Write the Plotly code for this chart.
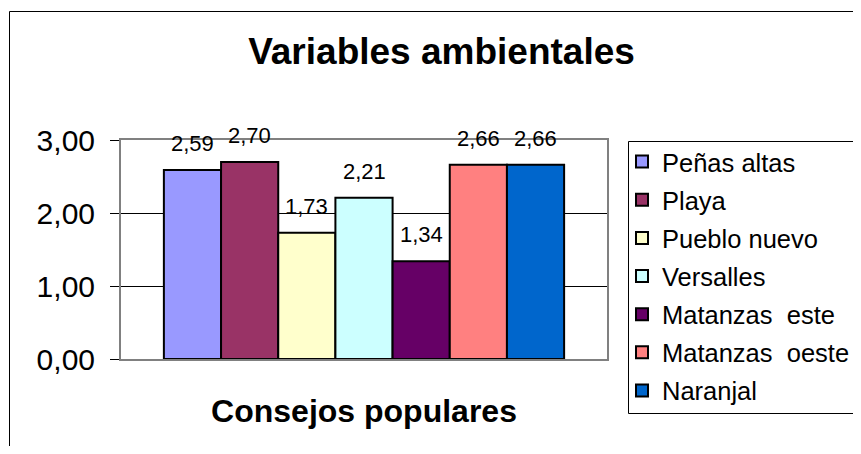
import plotly.graph_objects as go

# ---- data ----
categories = ["Peñas altas", "Playa", "Pueblo nuevo", "Versalles",
              "Matanzas  este", "Matanzas  oeste", "Naranjal"]
values = [2.59, 2.70, 1.73, 2.21, 1.34, 2.66, 2.66]
colors = ["#9999FF", "#993366", "#FFFFCC", "#CCFFFF", "#660066", "#FF8080", "#0066CC"]
y_ticks = [0, 1, 2, 3]
chart_title = "Variables ambientales"
x_title = "Consejos populares"

# ---- layout geometry (target pixels in the 861x454 window) ----
OFF = 8                      # default page body margin
W, H = 861 - 2 * OFF, 454 - 2 * OFF
PL, PR, PT, PB = 121 - OFF, 607 - OFF, 140 - OFF, 359 - OFF
FONT = "Arial, 'Liberation Sans', sans-serif"


def px_x(p):
    return (p - OFF - PL) / (PR - PL)


def px_y(p):
    return (PB - (p - OFF)) / (PB - PT)


fig = go.Figure()
for i, (name, v, c) in enumerate(zip(categories, values, colors)):
    fig.add_trace(go.Bar(
        x=[i], y=[v], name=name, width=1, legendgroup=name,
        marker=dict(color=c, line=dict(color="black", width=2)),
        hovertemplate="%{y:.2f}<extra>" + name + "</extra>",
    ))
    fig.add_annotation(
        x=i, y=v, text=f"{v:.2f}".replace(".", ","), showarrow=False,
        yanchor="bottom", yshift=12, font=dict(size=22, color="black", family=FONT),
    )

fig.update_layout(
    width=W, height=H, autosize=False,
    margin=dict(l=PL, r=W - PR, t=PT, b=H - PB, pad=0, autoexpand=False),
    paper_bgcolor="white", plot_bgcolor="white",
    separators=",.",
    barmode="overlay",
    font=dict(family=FONT, color="black"),
    title=dict(text=chart_title, x=(441.5 - OFF) / W, xref="container", xanchor="center",
               y=1 - (51.5 - OFF) / H, yref="container", yanchor="middle",
               font=dict(size=37, weight="bold", color="black", family=FONT)),
    xaxis=dict(range=[-1.25, 7.25], showticklabels=False, showgrid=False, zeroline=False,
               showline=True, mirror=True, linecolor="#808080", linewidth=2, ticks="",
               title=dict(text=x_title, standoff=40,
                          font=dict(size=32, weight="bold", color="black", family=FONT))),
    yaxis=dict(range=[0, 3], tickvals=y_ticks, tickformat=".2f", ticks="outside", ticklen=9,
               tickcolor="black", tickwidth=1, showgrid=True, gridcolor="black", gridwidth=1,
               zeroline=False, showline=True, mirror=True, linecolor="#808080", linewidth=2,
               ticklabelstandoff=9,
               tickfont=dict(size=30, color="black", family=FONT)),
    legend=dict(x=px_x(622), y=px_y(138.5), xanchor="left", yanchor="top",
                font=dict(size=25.5, color="black", family=FONT),
                bgcolor="rgba(0,0,0,0)", borderwidth=0, maxheight=420,
                traceorder="grouped", tracegroupgap=2),
    shapes=[
        dict(type="rect", xref="paper", yref="paper", x0=px_x(9.5), x1=px_x(880),
             y0=px_y(11.5), y1=px_y(470), line=dict(color="black", width=1), layer="below"),
        dict(type="rect", xref="paper", yref="paper", x0=px_x(628.5), x1=px_x(880),
             y0=px_y(141.5), y1=px_y(413.5), line=dict(color="black", width=1), layer="below"),
    ],
)

fig.write_html("out.html")
